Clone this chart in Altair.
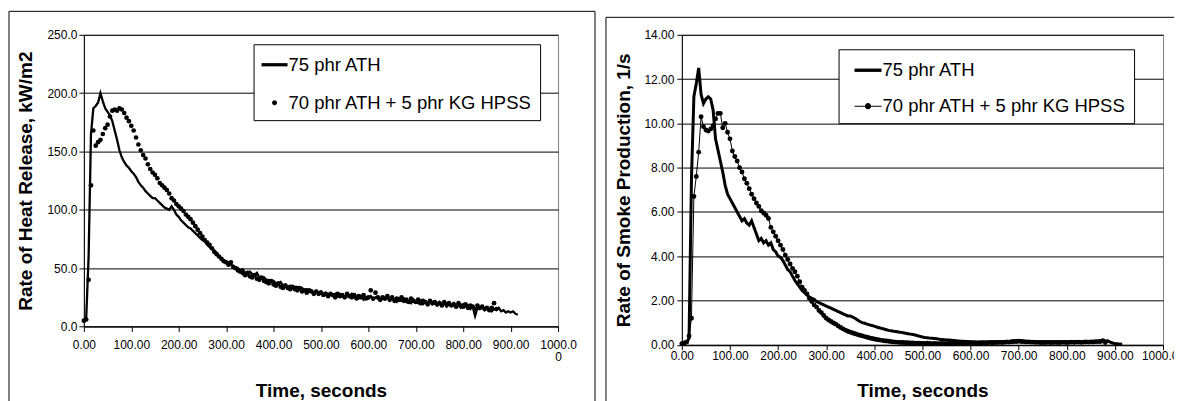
import altair as alt
import pandas as pd

S1 = "75 phr ATH"
S2 = "70 phr ATH + 5 phr KG HPSS"

x_ticks = [0, 100, 200, 300, 400, 500, 600, 700, 800, 900, 1000]
hrr_ticks = [0, 50, 100, 150, 200, 250]
smk_ticks = [0, 2, 4, 6, 8, 10, 12, 14]

# ---- Rate of heat release (kW/m2), sampled every 5 s ----
hrr_ath_t = list(range(0, 920, 5))
hrr_ath = [
    5, 8, 60, 165, 187, 189, 192, 200, 193, 187,
    184, 181, 176, 168, 160, 151, 145, 141, 138, 136,
    133, 131, 128, 124, 121, 119, 116, 114, 112, 110,
    110, 108, 106, 104, 102, 101, 100, 103, 100, 96,
    94, 91, 89, 87, 85, 84, 82, 80, 78, 76,
    74, 73, 70, 68, 67, 65, 63, 60, 58, 57,
    55, 55, 53, 52, 50, 50, 48, 49, 46, 45,
    47, 45, 44, 46, 42, 41, 42, 40, 40, 38,
    39, 37, 36, 38, 35, 36, 34, 35, 33, 34,
    34, 32, 33, 31, 32, 30, 31, 28, 30, 29,
    30, 28, 29, 27, 28, 27, 28, 26, 28, 27,
    25, 27, 26, 28, 25, 26, 24, 26, 23, 25,
    24, 26, 23, 25, 24, 22, 24, 23, 25, 22,
    24, 23, 21, 23, 22, 24, 21, 22, 20, 23,
    21, 20, 22, 19, 21, 20, 22, 19, 20, 18,
    21, 19, 20, 17, 19, 18, 20, 17, 18, 16,
    19, 17, 18, 15, 17, 9, 16, 15, 17, 14,
    16, 15, 13, 15, 14, 16, 13, 14, 12, 13,
    12, 13, 11, 10,
]
hrr_hpss_t = list(range(0, 875, 5))
hrr_hpss = [
    5, 6, 40, 121, 168, 155, 158, 160, 165, 170,
    173, 180, 185, 186, 185, 187, 186, 183, 179, 176,
    172, 168, 162, 156, 151, 147, 144, 139, 135, 132,
    130, 127, 123, 121, 119, 117, 114, 110, 108, 105,
    103, 101, 99, 96, 94, 92, 89, 86, 83, 80,
    77, 74, 72, 70, 67, 64, 62, 60, 58, 56,
    55, 53, 55, 51, 50, 48, 47, 46, 44, 46,
    43, 42, 44, 41, 40, 42, 39, 38, 37, 39,
    36, 35, 37, 34, 33, 35, 33, 32, 34, 32,
    31, 33, 30, 31, 29, 31, 30, 28, 30, 28,
    29, 27, 28, 26, 28, 27, 25, 28, 26, 27,
    25, 28, 26, 25, 27, 24, 26, 25, 27, 24,
    25, 31, 24, 29, 25, 23, 25, 24, 26, 23,
    25, 22, 24, 23, 25, 22, 23, 21, 24, 22,
    21, 23, 20, 22, 21, 19, 22, 20, 21, 19,
    20, 18, 21, 19, 20, 18, 19, 17, 20, 18,
    17, 19, 16, 18, 17, 15, 18, 16, 17, 15,
    16, 14, 16, 20, 15,
]

# ---- Rate of smoke production (1/s), sampled every 5 s ----
smk_ath_t = list(range(0, 920, 5))
smk_ath = [
    0.05, 0.08, 0.1, 0.3, 7.5, 11.2, 11.8, 12.5, 11.3, 10.9,
    11.1, 11.2, 11.1, 10.6, 9.3, 8.8, 8.3, 7.8, 7.2, 6.8,
    6.6, 6.4, 6.2, 6.0, 5.8, 5.6, 5.7, 5.5, 5.4, 5.6,
    5.3, 5.0, 4.7, 4.8, 4.6, 4.7, 4.5, 4.6, 4.3, 4.2,
    4.0, 3.95, 3.8, 3.6, 3.4, 3.3, 3.1, 2.9, 2.75, 2.6,
    2.45, 2.35, 2.25, 2.15, 2.1, 2.05, 1.95, 1.9, 1.85, 1.8,
    1.75, 1.7, 1.65, 1.6, 1.55, 1.5, 1.45, 1.4, 1.35, 1.3,
    1.3, 1.25, 1.2, 1.12, 1.05, 1.0, 0.97, 0.93, 0.9, 0.87,
    0.84, 0.8, 0.77, 0.74, 0.71, 0.68, 0.65, 0.63, 0.61, 0.6,
    0.58, 0.56, 0.54, 0.52, 0.5, 0.48, 0.46, 0.44, 0.41, 0.38,
    0.35, 0.33, 0.32, 0.3, 0.29, 0.28, 0.27, 0.25, 0.24, 0.23,
    0.22, 0.21, 0.2, 0.19, 0.18, 0.17, 0.16, 0.16, 0.15, 0.15,
    0.14, 0.14, 0.13, 0.13, 0.12, 0.12, 0.12, 0.11, 0.11, 0.12,
    0.12, 0.13, 0.12, 0.14, 0.15, 0.16, 0.15, 0.17, 0.18, 0.17,
    0.18, 0.17, 0.16, 0.15, 0.14, 0.13, 0.13, 0.12, 0.12, 0.11,
    0.11, 0.12, 0.12, 0.11, 0.11, 0.12, 0.13, 0.12, 0.12, 0.11,
    0.12, 0.13, 0.12, 0.13, 0.13, 0.12, 0.13, 0.14, 0.13, 0.14,
    0.14, 0.15, 0.15, 0.16, 0.17, 0.16, 0.17, 0.18, 0.12, 0.08,
    0.06, 0.05, 0.03, 0.02,
]
smk_hpss_t = list(range(0, 885, 5))
smk_hpss = [
    0.05, 0.08, 0.12, 0.4, 1.2, 6.7, 7.6, 8.7, 10.3, 9.85,
    9.7, 9.65, 9.75, 9.9, 10.2, 10.45, 10.45, 9.8, 10.0, 9.6,
    9.3, 8.75, 8.5, 8.3, 8.0, 7.8, 7.5, 7.3, 7.05, 6.8,
    6.6, 6.4, 6.25, 6.05, 5.95, 5.85, 5.7, 5.3, 5.1, 4.9,
    4.7, 4.5, 4.3, 4.05, 3.85, 3.65, 3.45, 3.3, 3.1, 2.85,
    2.6, 2.45, 2.3, 2.1, 1.95, 1.8, 1.7, 1.55, 1.45, 1.32,
    1.2, 1.12, 1.05, 0.98, 0.93, 0.85, 0.78, 0.72, 0.66, 0.61,
    0.57, 0.53, 0.5, 0.46, 0.43, 0.4, 0.37, 0.34, 0.31, 0.28,
    0.26, 0.24, 0.22, 0.2, 0.18, 0.17, 0.16, 0.14, 0.13, 0.12,
    0.11, 0.1, 0.1, 0.09, 0.09, 0.08, 0.08, 0.07, 0.07, 0.07,
    0.06, 0.06, 0.07, 0.06, 0.05, 0.06, 0.05, 0.05, 0.06, 0.05,
    0.05, 0.06, 0.05, 0.05, 0.06, 0.06, 0.05, 0.06, 0.07, 0.06,
    0.07, 0.07, 0.08, 0.07, 0.08, 0.09, 0.08, 0.09, 0.1, 0.09,
    0.1, 0.1, 0.11, 0.1, 0.11, 0.12, 0.12, 0.13, 0.14, 0.15,
    0.16, 0.15, 0.14, 0.13, 0.13, 0.12, 0.12, 0.11, 0.11, 0.1,
    0.1, 0.1, 0.11, 0.1, 0.1, 0.11, 0.1, 0.1, 0.11, 0.11,
    0.1, 0.11, 0.12, 0.11, 0.12, 0.12, 0.11, 0.12, 0.13, 0.12,
    0.13, 0.13, 0.14, 0.14, 0.15, 0.18, 0.1,
]

FONT = "Liberation Sans"
NB = "\u00a0"

df_l1 = pd.DataFrame({"t": hrr_ath_t, "v": hrr_ath})
df_l2 = pd.DataFrame({"t": hrr_hpss_t, "v": hrr_hpss})
df_r1 = pd.DataFrame({"t": smk_ath_t, "v": smk_ath})
df_r2 = pd.DataFrame({"t": smk_hpss_t, "v": smk_hpss})
df_leg = pd.DataFrame({"series": [S1, S2]})
df_leg2 = pd.DataFrame({"series2": [S1, S2]})
one = pd.DataFrame({"k": [0]})

# legend symbol shapes (unit box [-1,1])
P_LINE = "M-1,-0.125L1,-0.125L1,0.125L-1,0.125Z"
P_DOT = "M-0.19,0A0.19,0.19,0,1,0,0.19,0A0.19,0.19,0,1,0,-0.19,0Z"
P_LINEDOT = ("M-1,-0.04L-0.22,-0.04L-0.22,0.04L-1,0.04Z "
             "M0.22,-0.04L1,-0.04L1,0.04L0.22,0.04Z "
             "M-0.23,0A0.23,0.23,0,1,0,0.23,0A0.23,0.23,0,1,0,-0.23,0Z")


def vrule(x, y1, y2):
    return alt.Chart(one).mark_rule(color="black", strokeWidth=1).encode(
        x=alt.value(x), y=alt.value(y1), y2=alt.value(y2))


def hrule(y, x1, x2):
    return alt.Chart(one).mark_rule(color="black", strokeWidth=1).encode(
        y=alt.value(y), x=alt.value(x1), x2=alt.value(x2))


# ---------------- left panel ----------------
lab_left = ("datum.value == 1000 ? ['1000.0', '" + NB * 9 + "0'] : format(datum.value, '.2f')")
xL = alt.X("t:Q", scale=alt.Scale(domain=[0, 1000], nice=False),
           axis=alt.Axis(values=x_ticks, labelExpr=lab_left, labelLineHeight=12,
                         title="Time, seconds", titleY=64.3, titleBaseline="middle",
                         labelPadding=8, tickSize=5, grid=False, labelFlush=False))
yL = alt.Y("v:Q", scale=alt.Scale(domain=[0, 250], nice=False),
           axis=alt.Axis(values=hrr_ticks, format=".1f", title="Rate of Heat Release, kW/m2",
                         titleX=-58.5, titleBaseline="middle", grid=True, tickSize=5,
                         labelPadding=2))

left_line = alt.Chart(df_l1).mark_line(color="black", strokeWidth=2.3).encode(x=xL, y=yL)
left_dots = alt.Chart(df_l2).mark_point(filled=True, color="black", size=22, opacity=1).encode(x=xL, y=yL)
left_leg = alt.Chart(df_leg).transform_filter("false").mark_point(
    filled=True, color="black", opacity=1).encode(
    shape=alt.Shape("series:N", scale=alt.Scale(domain=[S1, S2], range=[P_LINE, P_DOT]),
                    legend=alt.Legend(orient="none", legendX=170, legendY=9.5, title=None,
                                      padding=7.5, symbolOffset=0.5, strokeColor="black",
                                      fillColor="white", symbolSize=676, symbolStrokeWidth=0,
                                      symbolFillColor="black", labelOffset=1, rowPadding=15,
                                      labelLimit=500, labelFontSize=18.5, labelFont=FONT)))

left = alt.layer(
    vrule(-75, -23.5, 370), hrule(-23.5, -75, 512), vrule(512, -23.5, 370),
    left_line, left_dots, left_leg,
).properties(width=475, height=292.2)

# ---------------- right panel ----------------
xR = alt.X("t:Q", scale=alt.Scale(domain=[0, 1000], nice=False),
           axis=alt.Axis(values=x_ticks, format=".2f", title="Time, seconds", titleY=46,
                         titleBaseline="middle", labelPadding=1, tickSize=5, grid=False,
                         labelFlush=False))
yR = alt.Y("v:Q", scale=alt.Scale(domain=[0, 14], nice=False),
           axis=alt.Axis(values=smk_ticks, format=".2f", title="Rate of Smoke Production, 1/s",
                         titleX=-58, titleBaseline="middle", grid=True, tickSize=5,
                         labelPadding=3))

right_line = alt.Chart(df_r1).mark_line(color="black", strokeWidth=3).encode(x=xR, y=yR)
right_thin = alt.Chart(df_r2).mark_line(color="black", strokeWidth=1).encode(x=xR, y=yR)
right_dots = alt.Chart(df_r2).mark_point(filled=True, color="black", size=24, opacity=1).encode(x=xR, y=yR)
right_leg = alt.Chart(df_leg2).transform_filter("false").mark_point(
    filled=True, color="black", opacity=1).encode(
    shape=alt.Shape("series2:N", scale=alt.Scale(domain=[S1, S2], range=[P_LINE, P_LINEDOT]),
                    legend=alt.Legend(orient="none", legendX=157, legendY=14.5, title=None,
                                      padding=7.5, symbolOffset=8.5, strokeColor="black",
                                      fillColor="white", symbolSize=729, symbolStrokeWidth=0,
                                      symbolFillColor="black", labelOffset=1, rowPadding=13,
                                      labelLimit=500, labelFontSize=18.5, labelFont=FONT,
                                      labelExpr="datum.label + '" + NB + "'")))

right = alt.layer(
    vrule(-76, -17.5, 370), hrule(-17.5, -76, 500),
    right_line, right_thin, right_dots, right_leg,
).properties(width=482, height=310.5)

chart = alt.hconcat(left, right, spacing=9).resolve_scale(
    shape="independent").resolve_legend(shape="independent").properties(
    padding={"left": 0, "top": 1.5, "right": -12, "bottom": 0},
    background="white",
).configure_view(stroke="#808080", strokeWidth=1).configure_axis(
    labelFont=FONT, labelFontSize=12, labelColor="black",
    titleFont=FONT, titleFontSize=19, titleFontWeight="bold", titleColor="black",
    domainColor="black", tickColor="black", gridColor="black", gridWidth=1,
    domainWidth=1, tickWidth=1,
).configure_legend(labelFont=FONT, labelFontSize=18.5, labelColor="black")

chart.save("out.html", embed_options={"renderer": "svg", "actions": False})
